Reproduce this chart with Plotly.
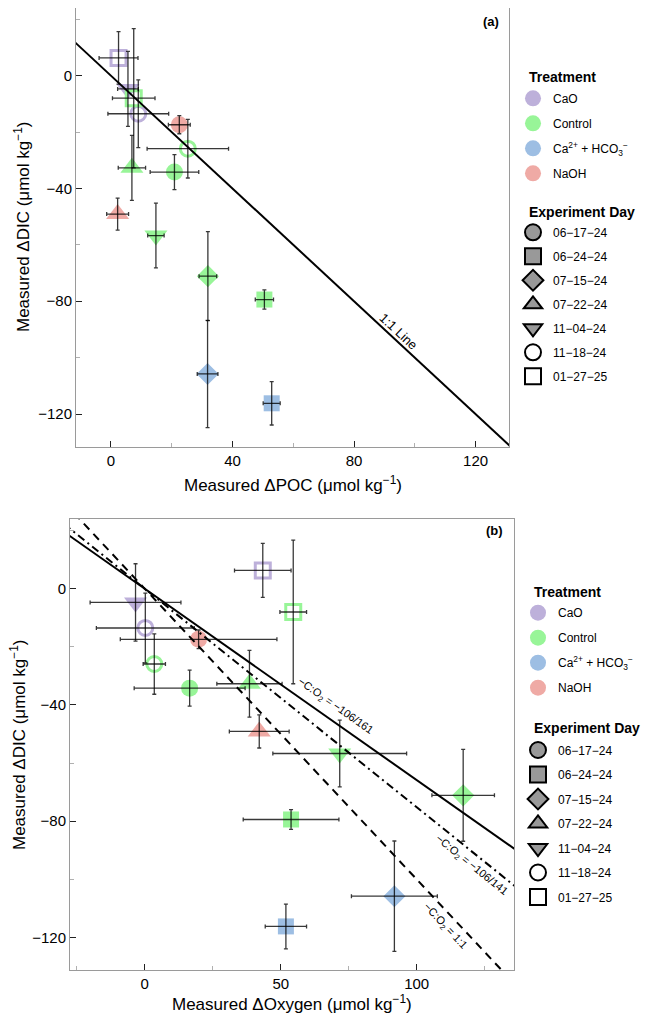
import plotly.graph_objects as go

# ---- data ----
treatment = ["CaO", "CaO", "CaO", "Control", "NaOH", "Control", "Control",
             "Control", "NaOH", "Control", "Control", "Ca", "Control", "Ca"]
day = ["01-27-25", "11-04-24", "11-18-24", "01-27-25", "06-17-24", "11-18-24", "06-17-24",
       "07-22-24", "07-22-24", "11-04-24", "07-15-24", "07-15-24", "06-24-24", "06-24-24"]
poc = [2.5, 5.6, 9.0, 7.5, 22.5, 25.3, 20.9, 6.9, 2.2, 14.8, 31.9, 31.8, 50.5, 52.9]
poc_err = [6.4, 3.4, 10.0, 7.0, 3.6, 13.4, 8.0, 4.5, 3.6, 2.7, 2.9, 3.4, 3.0, 2.8]
dic = [6.3, -4.7, -13.5, -8.0, -17.4, -25.9, -34.2, -32.7, -49.1, -56.7, -71.1, -105.8, -79.4, -116.2]
dic_err = [9.3, 13.3, 12.0, 24.7, 3.2, 10.4, 6.2, 11.5, 5.7, 11.5, 15.8, 19.0, 3.4, 7.7]
oxy = [43.4, -3.4, 0.2, 54.6, 19.8, 3.5, 16.5, 38.5, 42.1, 71.7, 117.1, 91.8, 53.8, 51.9]
oxy_err = [10.4, 16.7, 18.0, 4.9, 28.8, 4.1, 20.4, 12.0, 11.0, 24.6, 11.5, 15.8, 17.6, 7.6]

treat_names = ["CaO", "Control", "Ca", "NaOH"]
treat_labels = ["CaO", "Control", "Ca<sup>2+</sup> + HCO<sub>3</sub><sup>−</sup>", "NaOH"]
day_names = ["06-17-24", "06-24-24", "07-15-24", "07-22-24", "11-04-24", "11-18-24", "01-27-25"]
day_labels = ["06−17−24", "06−24−24", "07−15−24", "07−22−24", "11−04−24", "11−18−24", "01−27−25"]

# reference lines: -C:O2 ratios
ratio_lines = [106 / 161, 106 / 141, 1.0]
ratio_labels = ["−C:O<sub>2</sub> = −106/161", "−C:O<sub>2</sub> = −106/141", "−C:O<sub>2</sub> = 1:1"]

# ---- styles ----
colors = {"CaO": "#bdb0da", "Control": "#98f598", "Ca": "#9dbee3", "NaOH": "#efaaa5"}
symbols = {"06-17-24": "circle", "06-24-24": "square", "07-15-24": "diamond",
           "07-22-24": "triangle-up", "11-04-24": "triangle-down",
           "11-18-24": "circle-open", "01-27-25": "square-open"}
sizes = {"circle": 17, "square": 16, "diamond": 17, "triangle-up": 20,
         "triangle-down": 20, "circle-open": 15, "square-open": 15}
FONT = "Liberation Sans, Arial, sans-serif"
W, H = 652, 1021
OFF = 8  # page body margin of the rendered html


def px(x):
    return min(1, max(0, (x - OFF) / W))


def py(y):
    return min(1, max(0, 1 - (y - OFF) / H))


fig = go.Figure()


def add_panel(xvals, xerr, xa, ya):
    for t, d, xv, yv in zip(treatment, day, xvals, dic):
        sym = symbols[d]
        mk = dict(symbol=sym, size=sizes[sym], color=colors[t])
        if sym.endswith("open"):
            mk["line"] = dict(color=colors[t], width=3)
        else:
            mk["line"] = dict(width=0)
        fig.add_trace(go.Scatter(x=[xv], y=[yv], mode="markers", marker=mk,
                                 xaxis=xa, yaxis=ya, showlegend=False, hoverinfo="skip"))
    # error bars on top of the markers
    fig.add_trace(go.Scatter(
        x=xvals, y=dic, mode="markers", marker=dict(size=2, opacity=0),
        error_x=dict(type="data", array=xerr, color="rgba(0,0,0,0.78)", thickness=1.3, width=2),
        error_y=dict(type="data", array=dic_err, color="rgba(0,0,0,0.78)", thickness=1.3, width=2),
        xaxis=xa, yaxis=ya, showlegend=False, hoverinfo="skip"))


add_panel(poc, poc_err, "x", "y")
add_panel(oxy, oxy_err, "x2", "y2")

# 1:1 line (panel a)
xl = [-20, 140]
fig.add_trace(go.Scatter(x=xl, y=[-v for v in xl], mode="lines",
                         line=dict(color="black", width=2), xaxis="x", yaxis="y",
                         showlegend=False, hoverinfo="skip"))
# ratio lines (panel b)
xl2 = [-40, 150]
for r, dash in zip(ratio_lines, ["solid", "8px,4px,2px,4px", "8px,6px"]):
    fig.add_trace(go.Scatter(x=xl2, y=[-r * v for v in xl2], mode="lines",
                             line=dict(color="black", width=2, dash=dash), xaxis="x2", yaxis="y2",
                             showlegend=False, hoverinfo="skip"))

# legends
for lt, lg, xa, ya in [("legend", "legend2", "x", "y"), ("legend3", "legend4", "x2", "y2")]:
    for n, lab in zip(treat_names, treat_labels):
        fig.add_trace(go.Scatter(x=[None], y=[None], mode="markers", name=lab,
                                 marker=dict(symbol="circle", size=16, color=colors[n]),
                                 legend=lt, legendgroup=lt + n, xaxis=xa, yaxis=ya))
    for n, lab in zip(day_names, day_labels):
        sym = symbols[n].replace("-open", "")
        fill = "white" if symbols[n].endswith("open") else "#999999"
        fig.add_trace(go.Scatter(x=[None], y=[None], mode="markers", name=lab,
                                 marker=dict(symbol=sym, size=16, color=fill,
                                             line=dict(color="black", width=2)),
                                 legend=lg, legendgroup=lg + n, xaxis=xa, yaxis=ya))


def legend_at(xmark, yfirst, gap):
    return dict(font=dict(family=FONT, size=12, color="black"), traceorder="grouped",
                tracegroupgap=gap, itemsizing="trace", bgcolor="rgba(0,0,0,0)",
                xanchor="left", yanchor="top", x=px(xmark - 19), y=py(yfirst - 14.5))


# axes
def main_axis(domain, rng, ticks, minor_dt, anchor):
    return dict(domain=domain, range=rng, tickvals=ticks, ticks="inside", ticklen=6,
                tickcolor="#222", tickwidth=1, showline=True, linecolor="#9a9a9a",
                linewidth=1, mirror=True, showgrid=False, zeroline=False, anchor=anchor,
                tickfont=dict(family=FONT, size=15, color="black"),
                minor=dict(dtick=minor_dt, tick0=0, ticks="inside", ticklen=4, tickcolor="#b0b0b0"))


def mirror_axis(rng, dt, over, side, anchor):
    return dict(range=rng, dtick=dt, tick0=0, overlaying=over, side=side, anchor=anchor,
                ticks="inside", ticklen=4, tickcolor="#a0a0a0", showticklabels=False,
                showline=False, showgrid=False, zeroline=False)


xr1, yr1 = [-11.5, 131], [-131.7, 24]
xr2, yr2 = [-27.5, 135.9], [-131.2, 23.9]
xd1 = [px(76), px(509)]
yd1 = [py(447), py(8)]
xd2 = [px(70), px(514.3)]
yd2 = [py(970), py(519.3)]

fig.update_layout(
    width=W, height=H, margin=dict(l=0, r=0, t=0, b=0),
    paper_bgcolor="white", plot_bgcolor="white",
    font=dict(family=FONT, color="black"),
    xaxis=main_axis(xd1, xr1, [0, 40, 80, 120], 20, "y"),
    yaxis=main_axis(yd1, yr1, [0, -40, -80, -120], 20, "x"),
    xaxis2=main_axis(xd2, xr2, [0, 50, 100], 25, "y2"),
    yaxis2=main_axis(yd2, yr2, [0, -40, -80, -120], 20, "x2"),
    xaxis3=mirror_axis(xr1, 20, "x", "top", "y"),
    yaxis3=mirror_axis(yr1, 20, "y", "right", "x"),
    xaxis4=mirror_axis(xr2, 25, "x2", "top", "y2"),
    yaxis4=mirror_axis(yr2, 20, "y2", "right", "x2"),
    legend=legend_at(532, 98.3, 6),
    legend2=legend_at(532, 232.3, 5),
    legend3=legend_at(537, 612.7, 6),
    legend4=legend_at(537, 750, 5.5),
)

ann = []


def paper_text(text, x, y, size, angle=0, xanchor="center", bold=False):
    ann.append(dict(text="<b>" + text + "</b>" if bold else text, x=px(x), y=py(y),
                    xref="paper", yref="paper", xanchor=xanchor, yanchor="middle",
                    showarrow=False, textangle=angle,
                    font=dict(family=FONT, size=size, color="black")))


paper_text("Measured ΔPOC (μmol kg<sup>−1</sup>)", 292.5, 484, 17)
paper_text("Measured ΔDIC (μmol kg<sup>−1</sup>)", 22, 227, 17, angle=-90)
paper_text("Measured ΔOxygen (μmol kg<sup>−1</sup>)", 292, 1003, 17)
paper_text("Measured ΔDIC (μmol kg<sup>−1</sup>)", 18, 745, 17, angle=-90)
paper_text("(a)", 501, 21, 13, xanchor="right", bold=True)
paper_text("(b)", 505, 530, 13, xanchor="right", bold=True)
paper_text("Treatment", 526.5, 77.3, 14, xanchor="left", bold=True)
paper_text("Experiment Day", 526.5, 211.7, 14, xanchor="left", bold=True)
paper_text("Treatment", 531.5, 591.7, 14, xanchor="left", bold=True)
paper_text("Experiment Day", 531.5, 728.3, 14, xanchor="left", bold=True)

ann.append(dict(text="1:1 Line", x=94.6, y=-90.9, xref="x", yref="y", showarrow=False,
                textangle=42.9, font=dict(family=FONT, size=13)))
for lab, (lx, ly, ang) in zip(ratio_labels, [(70.0, -40.3, 35.1), (120.0, -95.1, 38.8), (110.4, -116.1, 46.9)]):
    ann.append(dict(text=lab, x=lx, y=ly, xref="x2", yref="y2", showarrow=False,
                    textangle=ang, font=dict(family=FONT, size=11)))
fig.update_layout(annotations=ann)

fig.write_html("out.html")
